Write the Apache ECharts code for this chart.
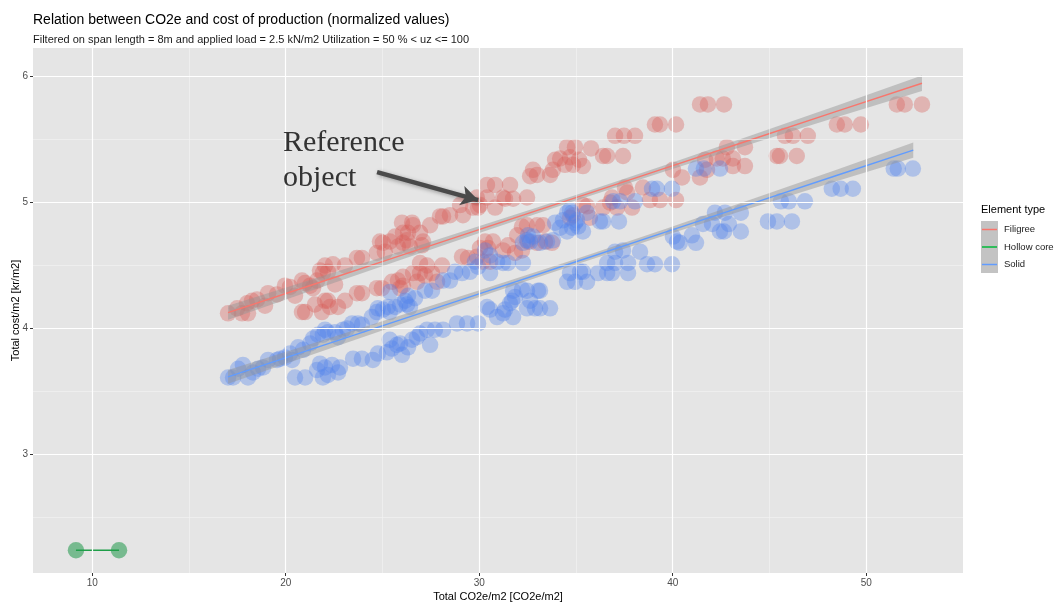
<!DOCTYPE html>
<html>
<head>
<meta charset="utf-8">
<script src="https://cdn.jsdelivr.net/npm/echarts@6/dist/echarts.min.js"></script>
<style>
  html, body { margin: 0; padding: 0; background: #ffffff; }
  #chart { width: 1055px; height: 605px; }
</style>
</head>
<body>
<div id="chart"></div>
<script>
// Axis ticks and grid positions
const xTicks = [10, 20, 30, 40, 50];
const yTicks = [3, 4, 5, 6];
const xMinor = [15, 25, 35, 45];
const yMinor = [2.5, 3.5, 4.5, 5.5];

const elementTypes = ['Filigree', 'Hollow core', 'Solid'];
const typeColors = ['#F8766D', '#00BA38', '#619CFF'];

// Filigree: [Total CO2e/m2, Total cost/m2]
const filigreePoints = [
  [17.02,4.12],[17.49,4.16],[17.74,4.12],[18.05,4.12],[18.00,4.20],[18.26,4.22],[18.52,4.23],[18.93,4.18],
  [19.09,4.28],[19.55,4.27],[19.96,4.34],[20.22,4.33],[20.48,4.26],[20.84,4.38],[21.00,4.36],[21.26,4.34],
  [21.41,4.32],[21.62,4.38],[21.77,4.46],[21.92,4.44],[22.03,4.50],[22.18,4.45],[22.44,4.51],[22.55,4.35],
  [23.06,4.50],[23.68,4.56],[23.94,4.56],[24.71,4.60],[24.87,4.69],[25.02,4.68],[25.12,4.61],[25.65,4.73],
  [26.01,4.84],[26.06,4.76],[26.06,4.68],[26.27,4.70],[26.53,4.84],[26.94,4.76],[27.04,4.66],[27.46,4.82],
  [28.13,4.89],[28.49,4.90],[29.01,4.98],[29.16,4.90],[29.88,5.04],[30.04,4.98],[30.40,5.04],[30.82,4.96],
  [31.23,5.04],[30.40,5.14],[30.82,5.14],[31.59,5.14],[31.33,5.03],[31.75,5.03],[29.68,4.96],[29.94,4.96],
  [27.97,4.89],[26.58,4.82],[26.32,4.76],[27.10,4.69],[25.80,4.65],[26.42,4.65],[25.38,4.69],
  [32.63,5.21],[32.78,5.26],[32.99,5.22],[33.66,5.22],[33.81,5.26],[32.47,5.04],
  [34.54,5.44],[34.95,5.44],[35.78,5.43],[34.18,5.35],[33.92,5.34],[34.43,5.30],[34.85,5.30],[34.69,5.36],
  [35.16,5.34],[35.36,5.29],[36.40,5.37],[36.61,5.37],[37.43,5.37],[37.02,5.53],[37.48,5.53],[38.05,5.53],
  [39.08,5.62],[39.34,5.62],[40.17,5.62],[41.41,5.78],[41.82,5.78],[42.65,5.78],[51.58,5.78],[51.99,5.78],
  [52.88,5.78],[48.48,5.62],[48.89,5.62],[49.72,5.62],[45.80,5.53],[46.21,5.53],[46.98,5.53],[42.80,5.44],
  [43.73,5.44],[45.38,5.37],[45.54,5.37],[46.41,5.37],[42.59,5.35],[43.11,5.35],[43.11,5.29],[43.73,5.29],
  [40.01,5.26],[40.48,5.20],[41.41,5.20],[41.77,5.26],[41.67,5.34],[42.28,5.35],
  [20.84,4.13],[21.00,4.13],[21.51,4.19],[21.87,4.13],[22.03,4.22],[22.18,4.22],[22.29,4.17],[22.70,4.17],
  [23.06,4.22],[23.68,4.28],[23.94,4.28],[24.71,4.32],[24.97,4.32],[25.49,4.37],[25.80,4.38],[25.91,4.32],
  [26.06,4.34],[26.06,4.41],[26.58,4.44],[26.78,4.37],[26.94,4.44],[27.20,4.42],[27.56,4.44],[27.82,4.37],
  [26.94,4.52],[27.30,4.50],[28.08,4.50],[29.11,4.57],[29.42,4.56],[29.88,4.57],[30.19,4.53],[30.56,4.53],
  [30.04,4.64],[30.45,4.64],[30.30,4.69],[30.71,4.69],[31.49,4.66],[31.85,4.60],[32.21,4.62],[31.23,4.62],
  [31.96,4.74],[32.21,4.81],[32.47,4.82],[32.99,4.82],[33.30,4.82],[32.52,4.69],[32.99,4.68],[33.40,4.69],
  [33.76,4.68],[34.69,4.88],[34.85,4.90],[35.36,4.98],[35.57,4.97],[35.72,4.88],[36.40,4.96],[36.76,5.00],
  [36.86,5.04],[37.12,4.96],[37.90,4.96],[37.53,5.12],[37.64,5.08],[38.46,5.12],[38.82,5.02],[39.34,5.02],
  [40.17,5.02]
];

// Hollow core
const hollowPoints = [[9.16, 2.238], [11.385, 2.238]];

// Solid
const solidPoints = [
  [17.02,3.61],[17.28,3.61],[17.54,3.68],[17.79,3.71],[18.05,3.61],[18.31,3.65],[18.57,3.68],[18.83,3.69],
  [19.09,3.75],[19.55,3.75],[19.71,3.76],[19.96,3.77],[20.22,3.80],[20.33,3.75],[20.64,3.85],[20.90,3.83],
  [21.26,3.88],[21.41,3.92],[21.67,3.95],[21.92,3.95],[22.03,3.99],[22.18,3.97],[22.55,3.97],[22.70,3.93],
  [22.96,3.99],[23.17,4.00],[23.43,4.04],[23.73,4.04],[23.94,4.03],[24.45,4.09],[24.71,4.13],[24.76,4.16],
  [25.02,4.15],[25.28,4.17],[25.38,4.13],[25.65,4.17],[25.91,4.19],[26.17,4.22],[26.32,4.26],[26.27,4.19],
  [26.42,4.17],
  [20.48,3.61],[21.00,3.61],[21.62,3.67],[21.77,3.72],[22.03,3.69],[22.18,3.63],[21.92,3.61],[22.39,3.71],
  [22.80,3.69],[22.70,3.65],[23.48,3.76],[23.94,3.76],[24.50,3.75],[24.76,3.80],[25.23,3.81],[25.49,3.84],
  [25.75,3.87],[26.01,3.79],[26.32,3.85],
  [25.91,3.88],[25.38,3.91],[26.53,3.91],[26.78,3.93],[26.94,3.96],[27.30,3.99],[27.71,3.99],[28.13,3.99],
  [27.46,3.87],[28.85,4.04],[29.37,4.04],[29.94,4.04],[30.40,4.17],[30.56,4.15],[30.92,4.09],[31.23,4.12],
  [31.75,4.09],[31.33,4.15],[31.59,4.20],[31.70,4.22],[31.85,4.25],[32.63,4.22],[32.47,4.16],[32.88,4.16],
  [33.66,4.16],[33.14,4.16],[31.75,4.30],[32.21,4.31],[32.47,4.30],[33.04,4.30],[33.14,4.30],[34.54,4.37],
  [34.95,4.37],[35.57,4.37],[34.69,4.44],[35.21,4.45],[35.36,4.45],[36.14,4.44],[36.61,4.44],[36.86,4.44],
  [37.69,4.44],[36.61,4.52],[37.02,4.52],[37.69,4.52],[38.67,4.51],[39.08,4.51],[39.96,4.51],[37.02,4.61],
  [37.43,4.62],[38.31,4.61],[40.01,4.73],[40.22,4.69],[40.37,4.68],[40.99,4.74],[41.20,4.68],[41.56,4.83],
  [42.03,4.83],[42.90,4.83],[42.44,4.77],[42.65,4.77],[43.52,4.77],[42.18,4.92],[42.70,4.92],[43.52,4.92],
  [44.92,4.85],[45.38,4.85],[46.16,4.85],[45.59,5.01],[46.00,5.01],[46.83,5.01],[48.22,5.11],[48.68,5.11],
  [49.31,5.11],[51.42,5.27],[51.63,5.27],[52.41,5.27],
  [25.38,4.29],[26.68,4.24],[27.20,4.30],[27.56,4.30],[28.13,4.38],[28.49,4.38],[28.75,4.45],[29.11,4.44],
  [29.52,4.45],[29.78,4.53],[29.94,4.49],[30.56,4.44],[30.30,4.62],[30.56,4.58],[30.92,4.53],[31.23,4.52],
  [31.49,4.52],[32.26,4.52],[32.26,4.68],[32.47,4.70],[32.63,4.69],[32.52,4.74],[32.78,4.73],[33.14,4.68],
  [33.50,4.69],[33.81,4.70],[33.92,4.84],[34.18,4.80],[34.54,4.77],[34.80,4.80],[35.11,4.81],[35.36,4.77],
  [34.95,4.84],[34.33,4.86],[35.05,4.86],[34.54,4.92],[34.80,4.92],[35.57,4.92],[34.69,4.94],[36.24,4.85],
  [36.40,4.85],[37.22,4.85],[36.92,5.01],[37.28,5.01],[38.05,5.01],[38.93,5.11],[39.18,5.11],[39.96,5.11],
  [41.20,5.27],[41.61,5.27],[42.44,5.27]
];

// Smoothed trend with confidence band
const filigreeFitX  = [17.02, 21.5, 26, 30.5, 35, 39.5, 44, 48.5, 52.88];
const filigreeFitY  = [4.125, 4.353, 4.582, 4.811, 5.039, 5.268, 5.497, 5.726, 5.948];
const filigreeFitLo = [4.070, 4.309, 4.548, 4.785, 5.017, 5.243, 5.463, 5.680, 5.886];
const filigreeFitHi = [4.180, 4.397, 4.616, 4.837, 5.061, 5.293, 5.531, 5.772, 6.010];

const solidFitX  = [17.02, 21.5, 26, 30.5, 35, 39.5, 44, 48.5, 52.43];
const solidFitY  = [3.615, 3.843, 4.072, 4.301, 4.530, 4.759, 4.988, 5.217, 5.417];
const solidFitLo = [3.560, 3.799, 4.038, 4.275, 4.508, 4.734, 4.954, 5.171, 5.357];
const solidFitHi = [3.670, 3.887, 4.106, 4.327, 4.552, 4.784, 5.022, 5.263, 5.477];

// Annotation arrow (data units)
const arrowFrom = [24.72, 5.242];
const arrowTo = [29.94, 5.020];

const FONT = '"Liberation Sans", Arial, sans-serif';
const zip = (xs, ys) => xs.map((x, i) => [x, ys[i]]);

function bandSeries(name, xs, lo, hi) {
  return {
    type: 'custom',
    name: name + ' band',
    z: 3,
    silent: true,
    clip: false,
    data: [[xs[0], lo[0]]],
    renderItem: function (params, api) {
      const pts = [];
      for (let i = 0; i < xs.length; i++) pts.push(api.coord([xs[i], hi[i]]));
      for (let i = xs.length - 1; i >= 0; i--) pts.push(api.coord([xs[i], lo[i]]));
      return { type: 'polygon', shape: { points: pts }, style: { fill: 'rgba(150,150,150,0.48)' } };
    }
  };
}

function fitLine(name, xs, ys, color) {
  return {
    type: 'line', name: name + ' fit', z: 4, silent: true,
    data: zip(xs, ys), showSymbol: false, symbol: 'none',
    lineStyle: { color: color, width: 1.4 }
  };
}

function pointSeries(name, pts, fill) {
  return {
    type: 'scatter', name: name, z: 2, silent: true,
    data: pts, symbol: 'circle', symbolSize: 16.5,
    itemStyle: { color: fill, borderWidth: 0 }
  };
}

const gridLines = [];
xMinor.forEach(v => gridLines.push({ xAxis: v, lineStyle: { color: '#f4f4f4', width: 0.6, type: 'solid' } }));
yMinor.forEach(v => gridLines.push({ yAxis: v, lineStyle: { color: '#f4f4f4', width: 0.6, type: 'solid' } }));
xTicks.forEach(v => gridLines.push({ xAxis: v, lineStyle: { color: '#ffffff', width: 1.2, type: 'solid' } }));
yTicks.forEach(v => gridLines.push({ yAxis: v, lineStyle: { color: '#ffffff', width: 1.2, type: 'solid' } }));

const chart = echarts.init(document.getElementById('chart'), null, { renderer: 'canvas' });

const legendX = 981, legendY0 = 229.5, legendStep = 17.5;
const legendGraphics = [
  { type: 'text', left: legendX, top: 204, style: { text: 'Element type', font: '11px ' + FONT, fill: '#000' } },
  { type: 'rect', shape: { x: legendX, y: 221, width: 17, height: 52 }, style: { fill: '#c3c3c3' } }
];
elementTypes.forEach((name, i) => {
  const y = legendY0 + i * legendStep;
  legendGraphics.push({ type: 'line', shape: { x1: legendX + 1, y1: y, x2: legendX + 16, y2: y }, style: { stroke: typeColors[i], lineWidth: 1.5 } });
  legendGraphics.push({ type: 'text', x: 1004, y: y, style: { text: name, font: '9.5px ' + FONT, fill: '#1a1a1a', textVerticalAlign: 'middle' } });
});

const option = {
  animation: false,
  backgroundColor: '#ffffff',
  title: {
    text: 'Relation between CO2e and cost of production (normalized values)',
    subtext: 'Filtered on span length = 8m and applied load = 2.5 kN/m2 Utilization = 50 % < uz <= 100',
    left: 33, top: 12, itemGap: 4, padding: 0,
    textStyle: { fontFamily: FONT, fontSize: 14, fontWeight: 'normal', color: '#000', lineHeight: 17 },
    subtextStyle: { fontFamily: FONT, fontSize: 11, color: '#1a1a1a', lineHeight: 13 }
  },
  grid: {
    left: 33, right: 92, top: 48, bottom: 32,
    outerBoundsMode: 'none',
    show: true, backgroundColor: '#e5e5e5', borderWidth: 0
  },
  xAxis: {
    type: 'value', min: 6.94, max: 55.0,
    name: 'Total CO2e/m2 [CO2e/m2]', nameLocation: 'middle', nameGap: 18, nameMoveOverlap: false,
    nameTextStyle: { fontFamily: FONT, fontSize: 11, color: '#000' },
    axisLine: { show: false },
    axisTick: { show: true, customValues: xTicks, length: 3, lineStyle: { color: '#333', width: 1 } },
    axisLabel: { customValues: xTicks, color: '#4d4d4d', fontSize: 10, margin: 5, fontFamily: FONT },
    splitLine: { show: false }, minorSplitLine: { show: false }
  },
  yAxis: {
    type: 'value', min: 2.057, max: 6.228,
    name: 'Total cost/m2 [kr/m2]', nameLocation: 'middle', nameGap: 12, nameRotate: 90, nameMoveOverlap: false,
    nameTextStyle: { fontFamily: FONT, fontSize: 11, color: '#000' },
    axisLine: { show: false },
    axisTick: { show: true, customValues: yTicks, length: 3, lineStyle: { color: '#333', width: 1 } },
    axisLabel: { customValues: yTicks, color: '#4d4d4d', fontSize: 10, margin: 5, fontFamily: FONT },
    splitLine: { show: false }
  },
  graphic: [
    { type: 'text', x: 283, y: 143, z: 10, style: { text: 'Reference', font: '30px "Liberation Serif", "Times New Roman", serif', fill: '#333', textVerticalAlign: 'middle' } },
    { type: 'text', x: 283, y: 178, z: 10, style: { text: 'object', font: '30px "Liberation Serif", "Times New Roman", serif', fill: '#333', textVerticalAlign: 'middle' } }
  ].concat(legendGraphics),
  series: [
    {
      type: 'scatter', name: 'gridlines', data: [], z: 1, silent: true,
      markLine: { silent: true, symbol: ['none', 'none'], label: { show: false }, animation: false, data: gridLines }
    },
    pointSeries('Filigree', filigreePoints, 'rgba(215,95,88,0.45)'),
    pointSeries('Solid', solidPoints, 'rgba(80,130,235,0.45)'),
    pointSeries('Hollow core', hollowPoints, 'rgba(0,140,50,0.6)'),
    bandSeries('Filigree', filigreeFitX, filigreeFitLo, filigreeFitHi),
    bandSeries('Solid', solidFitX, solidFitLo, solidFitHi),
    fitLine('Filigree', filigreeFitX, filigreeFitY, '#F8766D'),
    fitLine('Solid', solidFitX, solidFitY, '#619CFF'),
    {
      type: 'line', name: 'Hollow core fit', z: 4, silent: true,
      data: hollowPoints, symbol: 'none', lineStyle: { color: '#1e9e48', width: 1.6 }
    },
    {
      type: 'scatter', name: 'annotation', data: [], z: 6, silent: true,
      markLine: {
        silent: true, animation: false, symbol: ['none', 'arrow'], symbolSize: [15, 17],
        label: { show: false },
        lineStyle: { color: '#4a4a4a', width: 4.5, type: 'solid', shadowBlur: 4, shadowColor: 'rgba(0,0,0,0.35)', shadowOffsetX: 1.5, shadowOffsetY: 1.5 },
        data: [[{ coord: arrowFrom }, { coord: arrowTo }]]
      }
    }
  ]
};

chart.setOption(option);
</script>
</body>
</html>
